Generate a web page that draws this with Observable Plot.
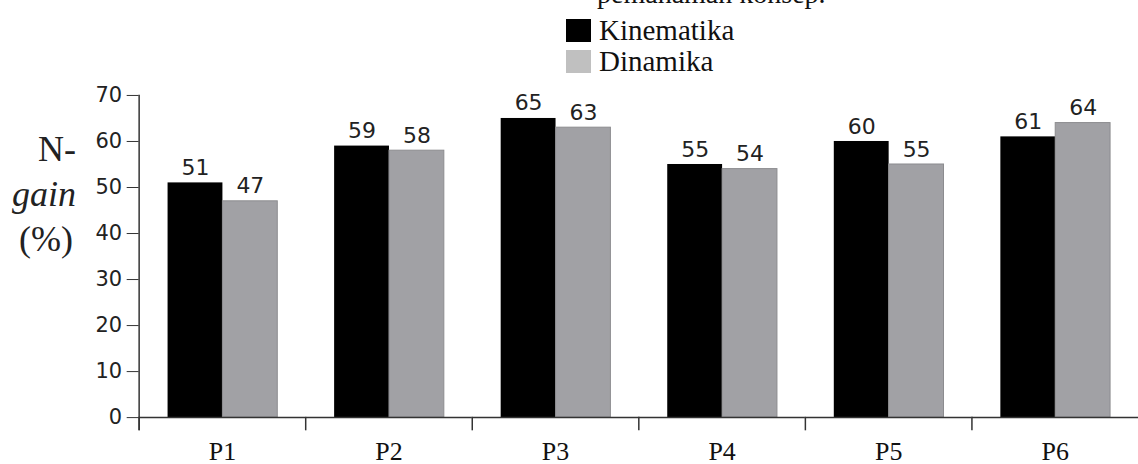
<!DOCTYPE html>
<html>
<head>
<meta charset="utf-8">
<script src="https://cdn.jsdelivr.net/npm/d3@7"></script>
<script src="https://cdn.jsdelivr.net/npm/@observablehq/plot@0.6"></script>
<style>
  html, body { margin: 0; padding: 0; background: #fff; overflow: hidden; width: 1138px; height: 464px; }
  #head { position: relative; height: 80px; }
  .serif { font-family: "Liberation Serif", "DejaVu Serif", serif; color: #111; white-space: nowrap; }
  .abs { position: absolute; }
  #chart svg { display: block; }
  .ylab { position: absolute; font-family: "Liberation Serif", "DejaVu Serif", serif; font-size: 36px; line-height: 36px; color: #222; text-align: right; width: 90px; left: -14px; white-space: nowrap; }
  .ylab i { font-family: "Liberation Serif", "DejaVu Serif", serif; font-style: italic; }
</style>
</head>
<body>
<div id="head">
  <div class="abs serif" style="left:597px; top:-20px; font-size:28px; line-height:28px;">pemahaman konsep.</div>
  <div id="legend"></div>
</div>
<div id="chart"></div>
<div class="ylab" style="top:131px;">N-</div>
<div class="ylab" style="top:176px;"><i>gain</i></div>
<div class="ylab" style="top:221px; left:-17px;">(%)</div>
<script>
const groups = ["P1", "P2", "P3", "P4", "P5", "P6"];
const series = ["Kinematika", "Dinamika"];
const kinematika = [51, 59, 65, 55, 60, 61];
const dinamika = [47, 58, 63, 54, 55, 64];
const yTicks = [0, 10, 20, 30, 40, 50, 60, 70];

const barColors = ["#000000", "#a1a1a5"];
const legendColors = ["#000000", "#c0c0c0"];

const data = groups.flatMap((g, i) => [
  {group: g, series: series[0], value: kinematika[i]},
  {group: g, series: series[1], value: dinamika[i]}
]);

// legend
const legend = document.getElementById("legend");
series.forEach((s, i) => {
  const row = document.createElement("div");
  row.className = "abs serif";
  row.style.left = "566px";
  row.style.top = (16 + i * 31) + "px";
  row.style.fontSize = "29px";
  row.style.lineHeight = "29px";
  row.innerHTML = `<span style="display:inline-block;width:25px;height:23px;background:${legendColors[i]};vertical-align:top;margin-top:3px;margin-right:8px;"></span>${s}`;
  legend.appendChild(row);
});

const W = 1141, H = 384, mT = 15, mB = 46, mL = 139;

const chart = Plot.plot({
  width: W,
  height: H,
  marginLeft: mL,
  marginRight: 0,
  marginTop: mT,
  marginBottom: mB,
  style: {fontFamily: "DejaVu Sans", fontSize: "21px", color: "#222", background: "white", overflow: "visible"},
  fx: {domain: groups, padding: 0, label: null},
  x: {domain: series, paddingInner: 0, paddingOuter: 0.5, axis: null},
  y: {domain: [0, 70], axis: null},
  color: {domain: series, range: barColors},
  marks: [
    Plot.barY(data, {fx: "group", x: "series", y: "value", fill: "series"}),
    Plot.barY(data.filter(d => d.series === series[1]), {fx: "group", x: "series", y: "value", fill: "none", stroke: "#8c8c8f", strokeWidth: 1}),
    Plot.text(data, {fx: "group", x: "series", y: "value", text: d => String(d.value), lineAnchor: "bottom", dy: -8, fill: "#222", fontSize: 22, fontFamily: "DejaVu Sans"}),
    Plot.ruleY([0], {stroke: "#333", strokeWidth: 1.5}),
    Plot.frame({anchor: "left", facet: "super", insetBottom: -12, stroke: "#333", strokeWidth: 1.5}),
    Plot.frame({anchor: "left", insetTop: H - mT - mB, insetBottom: -12, stroke: "#333", strokeWidth: 1.5}),
    Plot.axisY({ticks: yTicks, tickSize: 12, tickPadding: 5, fontSize: 21, stroke: "#333", fill: "#222", label: null}),
    Plot.axisFx({anchor: "bottom", tickSize: 0, tickPadding: 24, label: null, fontFamily: "Liberation Serif", fontSize: 26, fill: "#111"})
  ]
});
document.getElementById("chart").appendChild(chart);
</script>
</body>
</html>
